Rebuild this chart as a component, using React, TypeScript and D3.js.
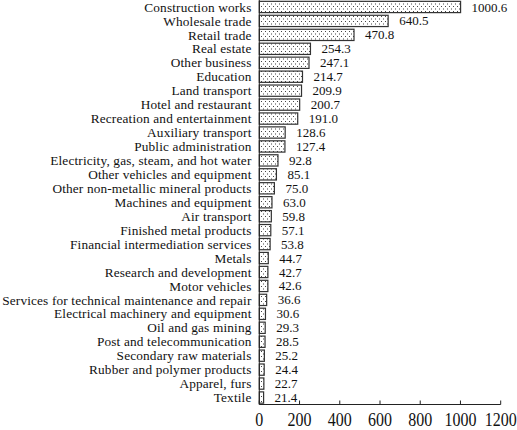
import React from "react";
import * as d3 from "d3";

const categories = [
  "Construction works",
  "Wholesale trade",
  "Retail trade",
  "Real estate",
  "Other business",
  "Education",
  "Land transport",
  "Hotel and restaurant",
  "Recreation and entertainment",
  "Auxiliary transport",
  "Public administration",
  "Electricity, gas, steam, and hot water",
  "Other vehicles and equipment",
  "Other non-metallic mineral products",
  "Machines and equipment",
  "Air transport",
  "Finished metal products",
  "Financial intermediation services",
  "Metals",
  "Research and development",
  "Motor vehicles",
  "Services for technical maintenance and repair",
  "Electrical machinery and equipment",
  "Oil and gas mining",
  "Post and telecommunication",
  "Secondary raw materials",
  "Rubber and polymer products",
  "Apparel, furs",
  "Textile",
];

const values = [
  1000.6, 640.5, 470.8, 254.3, 247.1, 214.7, 209.9, 200.7, 191.0, 128.6, 127.4,
  92.8, 85.1, 75.0, 63.0, 59.8, 57.1, 53.8, 44.7, 42.7, 42.6, 36.6, 30.6, 29.3,
  28.5, 25.2, 24.4, 22.7, 21.4,
];

const xTicks = [0, 200, 400, 600, 800, 1000, 1200];

const W = 517;
const H = 430;
const FONT = "'Liberation Serif', 'DejaVu Serif', serif";

export default function App() {
  const x = d3.scaleLinear().domain([0, 1200]).range([259.3, 500.7]);
  const y = d3
    .scaleBand<string>()
    .domain(categories)
    .range([0, 404.5])
    .paddingInner(0.12)
    .paddingOuter(0.06);

  const axisY = 404.5;

  return (
    <div style={{ position: "absolute", left: 0, top: 0 }}>
      <svg width={W} height={H} style={{ display: "block", background: "#fff" }}>
        <defs>
          <pattern id="dots" width={4} height={5} patternUnits="userSpaceOnUse">
            <rect width={4} height={5} fill="#fff" />
            <rect x={1} y={1} width={1} height={1} fill="#444" />
            <rect x={3} y={3.5} width={1} height={1} fill="#444" />
          </pattern>
        </defs>

        {categories.map((c, i) => {
          const v = values[i];
          const y0 = y(c) as number;
          const bw = y.bandwidth();
          return (
            <g key={c}>
              <rect
                x={x(0)}
                y={y0 + 0.5}
                width={Math.max(x(v) - x(0), 1)}
                height={bw - 1}
                fill="url(#dots)"
                stroke="#333"
                strokeWidth={1.2}
              />
              <text
                x={251.5}
                y={y0 + bw / 2}
                dy="0.35em"
                textAnchor="end"
                fontFamily={FONT}
                fontSize={13.3}
                letterSpacing={0.15}
                fill="#111"
              >
                {c}
              </text>
              <text
                x={x(v) + 11}
                y={y0 + bw / 2}
                dy="0.35em"
                textAnchor="start"
                fontFamily={FONT}
                fontSize={13}
                fill="#111"
              >
                {v.toFixed(1)}
              </text>
            </g>
          );
        })}

        {/* y axis line */}
        <line x1={x(0)} x2={x(0)} y1={0} y2={axisY} stroke="#222" strokeWidth={1} />
        {/* x axis */}
        <line x1={x(0)} x2={x(1200)} y1={axisY} y2={axisY} stroke="#222" strokeWidth={1} />
        {xTicks.map((t) => (
          <g key={t}>
            <line x1={x(t)} x2={x(t)} y1={axisY} y2={axisY - 4} stroke="#222" strokeWidth={1} />
            <text
              x={x(t)}
              y={426.5}
              textAnchor="middle"
              fontFamily={FONT}
              fontSize={16}
              fill="#111"
              transform={`translate(0, ${426.5}) scale(1, 1.15) translate(0, ${-426.5})`}
            >
              {t}
            </text>
          </g>
        ))}
      </svg>
    </div>
  );
}
